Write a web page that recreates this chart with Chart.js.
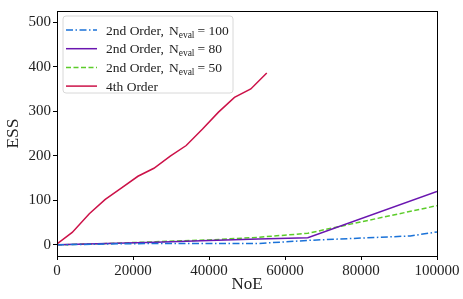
<!DOCTYPE html>
<html>
<head>
<meta charset="utf-8">
<script src="https://cdn.jsdelivr.net/npm/chart.js@4.4.0/dist/chart.umd.min.js"></script>
<style>
  html, body { margin: 0; padding: 0; background: #fff; }
  #wrap { width: 463px; height: 299px; }
</style>
</head>
<body>
<div id="wrap"><canvas id="essChart"></canvas></div>
<script>
// values
var noe100 = [0, 13000, 26000, 40000, 53000, 66000, 93000, 100000];
var ess100 = [0, 2, 3, 3, 3, 10, 20, 29];

var noe80 = [0, 13000, 26000, 40000, 53000, 66000, 100000];
var ess80 = [0, 3, 6, 10, 13, 16, 120];

var noe50 = [0, 13000, 26000, 40000, 53000, 66000, 100000];
var ess50 = [0, 3, 7, 11, 17, 26, 88];

var noe4th = [0, 4000, 8500, 12700, 17000, 21300, 25500, 29800, 34000, 38300, 42500, 46700, 51000, 55200];
var ess4th = [2, 28, 70, 102, 128, 154, 172, 199, 223, 260, 298, 331, 350, 386];

var xTicks = [0, 20000, 40000, 60000, 80000, 100000];
var yTicks = [0, 100, 200, 300, 400, 500];

var seriesLabels = ['2nd Order,', '2nd Order,', '2nd Order,', '4th Order'];
var seriesEval = ['100', '80', '50', null];

function pts(xs, ys) {
  return xs.map(function (x, i) { return { x: x, y: ys[i] }; });
}

var serif = '"Liberation Serif", "DejaVu Serif", serif';

var lineStyles = [
  { color: '#1a72d8', dash: [7, 2.5, 1.5, 2.5] },
  { color: '#6a16b0', dash: [] },
  { color: '#5ccc2a', dash: [5, 2.5] },
  { color: '#cc1148', dash: [] }
];

// legend with subscript and frame around the plot
var mplDecor = {
  id: 'mplDecor',
  afterDraw: function (chart) {
    var c = chart.ctx, a = chart.chartArea;
    c.save();
    // frame
    c.strokeStyle = '#000';
    c.lineWidth = 1;
    c.strokeRect(a.left + 0.5, a.top + 0.5, a.right - a.left, a.bottom - a.top);

    // legend box
    var bx = a.left + 6, by = a.top + 5, bw = 170, bh = 77, r = 3;
    c.beginPath();
    c.moveTo(bx + r, by);
    c.arcTo(bx + bw, by, bx + bw, by + bh, r);
    c.arcTo(bx + bw, by + bh, bx, by + bh, r);
    c.arcTo(bx, by + bh, bx, by, r);
    c.arcTo(bx, by, bx + bw, by, r);
    c.closePath();
    c.fillStyle = 'rgba(255,255,255,0.8)';
    c.fill();
    c.strokeStyle = '#d8d8d8';
    c.lineWidth = 1;
    c.stroke();

    for (var i = 0; i < seriesLabels.length; i++) {
      var yy = by + 14 + i * 18.7;
      var st = lineStyles[i];
      c.beginPath();
      c.setLineDash(st.dash);
      c.strokeStyle = st.color;
      c.lineWidth = 1.5;
      c.moveTo(bx + 3, yy);
      c.lineTo(bx + 34, yy);
      c.stroke();
      c.setLineDash([]);

      c.fillStyle = '#222';
      c.textBaseline = 'alphabetic';
      c.font = '13.5px ' + serif;
      var tx = bx + 43, base = yy + 4.5;
      c.fillText(seriesLabels[i], tx, base);
      if (seriesEval[i]) {
        tx += c.measureText(seriesLabels[i]).width + 5;
        c.fillText('N', tx, base);
        tx += c.measureText('N').width;
        c.font = '9.5px ' + serif;
        c.fillText('eval', tx, base + 3);
        tx += c.measureText('eval').width + 3;
        c.font = '13.5px ' + serif;
        c.fillText('= ' + seriesEval[i], tx, base);
      }
    }
    c.restore();
  }
};

var datasets = [
  { label: '2nd Order, N_eval = 100', data: pts(noe100, ess100) },
  { label: '2nd Order, N_eval = 80', data: pts(noe80, ess80) },
  { label: '2nd Order, N_eval = 50', data: pts(noe50, ess50) },
  { label: '4th Order', data: pts(noe4th, ess4th) }
].map(function (d, i) {
  d.showLine = true;
  d.borderColor = lineStyles[i].color;
  d.backgroundColor = lineStyles[i].color;
  d.borderDash = lineStyles[i].dash;
  d.borderWidth = 1.5;
  d.pointRadius = 0;
  d.tension = 0;
  return d;
});

new Chart(document.getElementById('essChart'), {
  type: 'scatter',
  data: { datasets: datasets },
  plugins: [mplDecor],
  options: {
    responsive: true,
    maintainAspectRatio: false,
    animation: false,
    layout: { padding: { top: 11, right: 26, left: 0, bottom: 0 } },
    plugins: { legend: { display: false }, tooltip: { enabled: false } },
    scales: {
      x: {
        type: 'linear',
        min: 0,
        max: 100000,
        afterBuildTicks: function (s) { s.ticks = xTicks.map(function (v) { return { value: v }; }); },
        afterFit: function (s) { s.height = 43; },
        grid: { drawOnChartArea: false, tickLength: 4, color: '#000' },
        border: { color: '#000' },
        ticks: {
          color: '#222', padding: 2, maxRotation: 0,
          font: { family: serif, size: 15 },
          callback: function (v) { return String(v); }
        },
        title: { display: true, text: 'NoE', color: '#222', padding: { top: 0, bottom: 4 }, font: { family: serif, size: 17 } }
      },
      y: {
        type: 'linear',
        min: -25,
        max: 525,
        afterBuildTicks: function (s) { s.ticks = yTicks.map(function (v) { return { value: v }; }); },
        afterFit: function (s) { s.width = 57; },
        grid: { drawOnChartArea: false, tickLength: 4, color: '#000' },
        border: { color: '#000' },
        ticks: {
          color: '#222', padding: 2,
          font: { family: serif, size: 15 },
          callback: function (v) { return String(v); }
        },
        title: { display: true, text: 'ESS', color: '#222', padding: { top: 3, bottom: 0 }, font: { family: serif, size: 17.5 } }
      }
    }
  }
});
</script>
</body>
</html>
